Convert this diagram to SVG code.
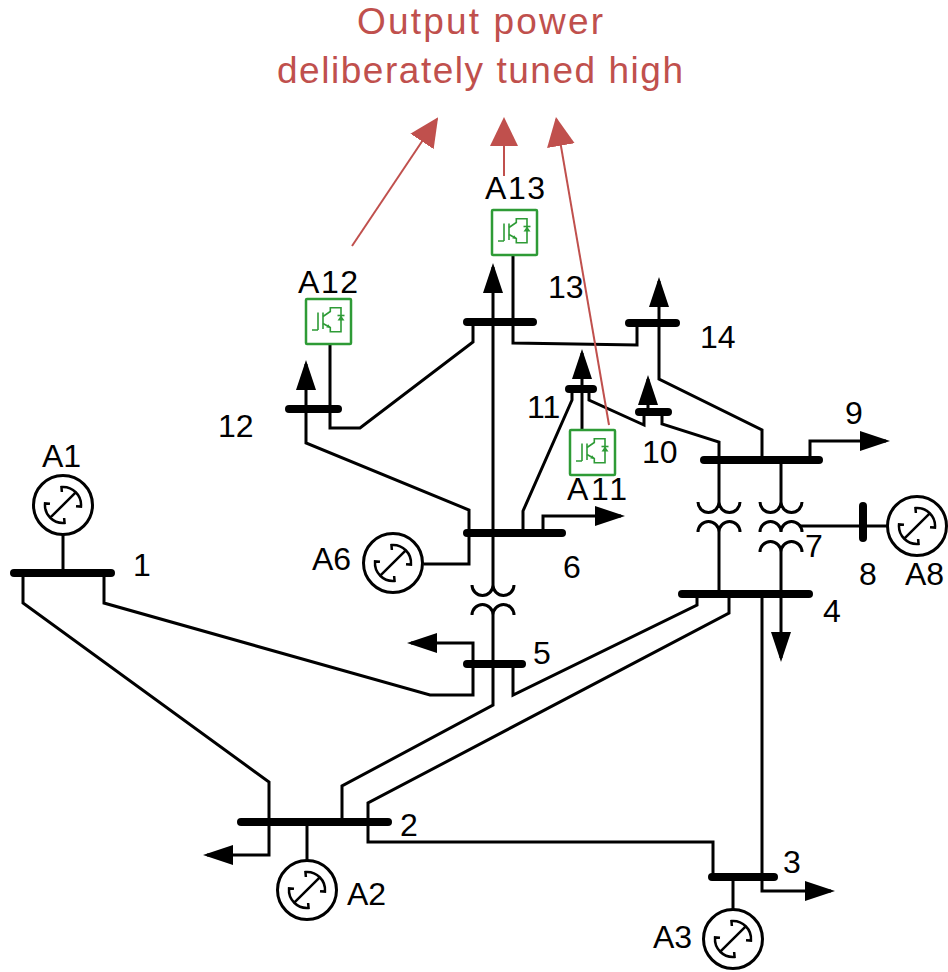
<svg xmlns="http://www.w3.org/2000/svg" width="948" height="972" viewBox="0 0 948 972">
<defs>
<style>
.ln{fill:none;stroke:#000;stroke-width:3;stroke-linejoin:miter}
.bus{stroke:#000;stroke-width:8;stroke-linecap:round}
.lbl{font-family:"Liberation Sans",Arial,sans-serif;font-size:32px;fill:#000}
.ttl{font-family:"Liberation Sans",Arial,sans-serif;font-size:37px;fill:#C0504D}
.red{fill:none;stroke:#C0504D;stroke-width:2}
.gc{fill:#fff;stroke:#000;stroke-width:3}
.gi{fill:none;stroke:#000;stroke-width:2.5}
.box{fill:#fff;stroke:#2E9B36;stroke-width:2.5}
.ig{fill:none;stroke:#2E9B36;stroke-width:1.6}
.igf{fill:#2E9B36}
.tx{fill:none;stroke:#000;stroke-width:3}
</style>
<marker id="ah" viewBox="0 0 30 20" refX="26" refY="10" markerWidth="30" markerHeight="20" markerUnits="userSpaceOnUse" orient="auto"><path d="M0,0 L30,10 L0,20 z" fill="#000"/></marker>
<marker id="ahr" viewBox="0 0 29 28" refX="27" refY="14" markerWidth="29" markerHeight="28" markerUnits="userSpaceOnUse" orient="auto"><path d="M0,0 L29,14 L0,28 z" fill="#C0504D"/></marker>
<g id="gen">
<circle r="29.5" class="gc"/>
<path class="gi" transform="rotate(45)" d="M0,-18 V18 M-10,-8.4 L-13.8,-11.6 A18,18 0 0 1 13.8,-11.6 L10,-8.4 M-10,8.4 L-13.8,11.6 A18,18 0 0 0 13.8,11.6 L10,8.4"/>
</g>
<g id="igbt">
<rect x="0" y="0" width="45" height="45" rx="1" class="box"/>
<path class="ig" d="M6,31 H12 M12,13.5 V31"/>
<path class="ig" stroke-width="2" d="M17,13.5 V30"/>
<path class="ig" d="M17,17.5 L24.3,12.5 V8.7 H35 V32.7 H24.3 V28.5 L17,24.5"/>
<path class="igf" d="M24.8,28.8 L20.3,28.6 L22.1,25.2 z"/>
<path class="igf" d="M35,16.5 L38.5,21.5 L31.5,21.5 z"/>
<path class="ig" d="M31.5,16.5 H38.5"/>
</g>
</defs>

<rect width="948" height="972" fill="#fff"/>

<g id="title">
<text class="ttl" x="480" y="34" text-anchor="middle" textLength="246" lengthAdjust="spacing">Output power</text>
<text class="ttl" x="480" y="83" text-anchor="middle" textLength="406" lengthAdjust="spacing">deliberately tuned high</text>
</g>

<g id="connectors">
<path class="ln" d="M23,573 V603 L269,782 V855 H207" marker-end="url(#ah)"/>
<path class="ln" d="M104,573 V603 L430,695 H473 V643 H411" marker-end="url(#ah)"/>
<path class="ln" d="M493,585 V267" marker-end="url(#ah)"/>
<path class="ln" d="M493,615 V705 L342,786 V822"/>
<path class="ln" d="M513,664 V695 L697,605 V594"/>
<path class="ln" d="M729,594 V613 L368,803 V842 H713 V877"/>
<path class="ln" d="M762,594 V891 H831" marker-end="url(#ah)"/>
<path class="ln" d="M781,552 V658" marker-end="url(#ah)"/>
<path class="ln" d="M781,460 V502"/>
<path class="ln" d="M719,532 V594"/>
<path class="ln" d="M810,460 V441 H886" marker-end="url(#ah)"/>
<path class="ln" d="M762,460 V430 L659,379 V281" marker-end="url(#ah)"/>
<path class="ln" d="M513,255 V343 L637,345 V323"/>
<path class="ln" d="M330,344 V428 H360 L473,342 V322"/>
<path class="ln" d="M469,533 V510 L306,443 V364" marker-end="url(#ah)"/>
<path class="ln" d="M469,533 V564 H423.5"/>
<path class="ln" d="M523,533 V511 L572,400 V389"/>
<path class="ln" d="M543,533 V516 H621" marker-end="url(#ah)"/>
<path class="ln" d="M582,430 V353" marker-end="url(#ah)"/>
<path class="ln" d="M589,389 V400 L644,425 V412"/>
<path class="ln" d="M648,412 V379" marker-end="url(#ah)"/>
<path class="ln" d="M662,412 V424 L719,442 V502"/>
<path class="ln" d="M63,535 V573"/>
<path class="ln" d="M307,822 V861"/>
<path class="ln" d="M733,877 V910"/>
<path class="ln" d="M863,526 H888"/>
<path class="ln" d="M800,526 H863"/>
<line class="red" x1="352" y1="246" x2="437" y2="119" marker-end="url(#ahr)"/>
<line class="red" x1="504" y1="176" x2="504" y2="119" marker-end="url(#ahr)"/>
<line class="red" x1="609" y1="425" x2="556.3" y2="119" marker-end="url(#ahr)"/>
</g>

<g id="T5-6">
<path class="tx" d="M472,585 A10.5,10.5 0 0 0 493,585 A10.5,10.5 0 0 0 514,585"/>
<path class="tx" d="M472,615 A10.5,10.5 0 0 1 493,615 A10.5,10.5 0 0 1 514,615"/>
</g>
<g id="T4-9">
<path class="tx" d="M698,502 A10.5,10.5 0 0 0 719,502 A10.5,10.5 0 0 0 740,502"/>
<path class="tx" d="M698,532 A10.5,10.5 0 0 1 719,532 A10.5,10.5 0 0 1 740,532"/>
</g>
<g id="T4-7-9">
<path class="tx" d="M760,502 A10.5,10.5 0 0 0 781,502 A10.5,10.5 0 0 0 802,502"/>
<path class="tx" d="M760,532 A10.5,10.5 0 0 1 781,532 A10.5,10.5 0 0 1 802,532"/>
<path class="tx" d="M760,552 A10.5,10.5 0 0 1 781,552 A10.5,10.5 0 0 1 802,552"/>
</g>

<g id="bus1"><line class="bus" x1="14" y1="573" x2="111" y2="573"/><text class="lbl" x="133" y="576">1</text></g>
<g id="bus2"><line class="bus" x1="241" y1="822" x2="388" y2="822"/><text class="lbl" x="400" y="836">2</text></g>
<g id="bus3"><line class="bus" x1="712" y1="877" x2="774" y2="877"/><text class="lbl" x="783" y="873">3</text></g>
<g id="bus4"><line class="bus" x1="682" y1="594" x2="809" y2="594"/><text class="lbl" x="823" y="622">4</text></g>
<g id="bus5"><line class="bus" x1="467" y1="664" x2="522" y2="664"/><text class="lbl" x="533" y="664">5</text></g>
<g id="bus6"><line class="bus" x1="467" y1="533" x2="562" y2="533"/><text class="lbl" x="563" y="578">6</text></g>
<g id="bus7"><text class="lbl" x="805" y="557">7</text></g>
<g id="bus8"><line class="bus" x1="863" y1="506" x2="863" y2="538"/><text class="lbl" x="859" y="585">8</text></g>
<g id="bus9"><line class="bus" x1="704" y1="460" x2="819" y2="460"/><text class="lbl" x="845" y="424">9</text></g>
<g id="bus10"><line class="bus" x1="639" y1="412" x2="668" y2="412"/><text class="lbl" x="642" y="463">10</text></g>
<g id="bus11"><line class="bus" x1="569" y1="389" x2="593" y2="389"/><text class="lbl" x="527" y="418">11</text></g>
<g id="bus12"><line class="bus" x1="289" y1="409" x2="338" y2="409"/><text class="lbl" x="218" y="437">12</text></g>
<g id="bus13"><line class="bus" x1="467" y1="322" x2="533" y2="322"/><text class="lbl" x="548" y="298">13</text></g>
<g id="bus14"><line class="bus" x1="629" y1="323" x2="676" y2="323"/><text class="lbl" x="700" y="348">14</text></g>

<g id="A1"><use href="#gen" transform="translate(63,505)"/><text class="lbl" x="42" y="467">A1</text></g>
<g id="A2"><use href="#gen" transform="translate(307,890)"/><text class="lbl" x="347" y="905">A2</text></g>
<g id="A3"><use href="#gen" transform="translate(733,939)"/><text class="lbl" x="653" y="948">A3</text></g>
<g id="A6"><use href="#gen" transform="translate(393,563)"/><text class="lbl" x="312" y="570">A6</text></g>
<g id="A8"><use href="#gen" transform="translate(917,526)"/><text class="lbl" x="905" y="585">A8</text></g>

<g id="A11"><use href="#igbt" transform="translate(570,430)"/><text class="lbl" x="567" y="500" textLength="60" lengthAdjust="spacing">A11</text></g>
<g id="A12"><use href="#igbt" transform="translate(306,299)"/><text class="lbl" x="298" y="293" textLength="60" lengthAdjust="spacing">A12</text></g>
<g id="A13"><use href="#igbt" transform="translate(492,210)"/><text class="lbl" x="485" y="199" textLength="60" lengthAdjust="spacing">A13</text></g>
</svg>
